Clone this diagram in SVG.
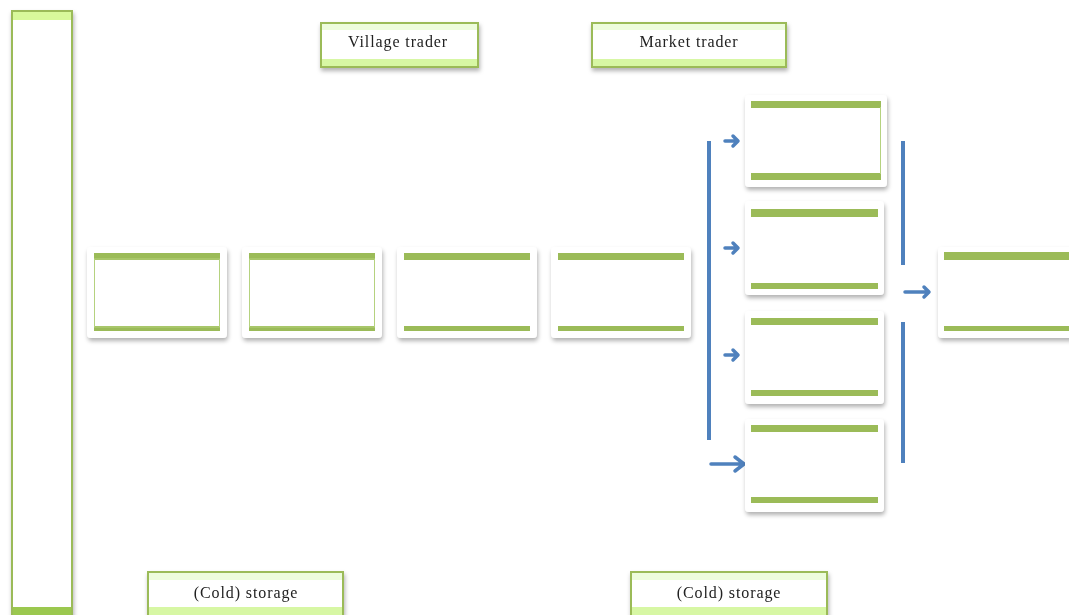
<svg xmlns="http://www.w3.org/2000/svg" width="1069" height="615" viewBox="0 0 1069 615">
<style>
.lbl{fill:#fff;stroke:#9bbb59;stroke-width:2}
.card{fill:#fff}
.band{fill:#9bbb59}
.lt{fill:#edfcdc}
.lg{fill:#d7f7a4}
.txt{font-family:"Liberation Serif",serif;font-size:16px;letter-spacing:0.9px;fill:#222;text-anchor:middle}
.blue{stroke:#4f81bd;stroke-width:4;fill:none}
.arr{stroke:#4f81bd;stroke-width:3.5;fill:none;stroke-linecap:round;stroke-linejoin:round}
</style>
<defs>
<filter id="sh" x="-10%" y="-10%" width="130%" height="130%">
<feDropShadow dx="1" dy="3" stdDeviation="2" flood-color="#000" flood-opacity="0.3"/>
</filter>
</defs>
<rect width="1069" height="615" fill="#fff"/>

<g id="left-column" filter="url(#sh)">
<rect x="12" y="11" width="60" height="610" class="lbl"/>
<rect x="13" y="12" width="58" height="8" fill="#d8f99b"/>
<rect x="13" y="607" width="58" height="8" fill="#9bc850"/>
</g>

<g id="village-trader" filter="url(#sh)">
<rect x="321" y="23" width="157" height="44" class="lbl"/>
<rect x="322" y="24" width="155" height="6" class="lt"/>
<rect x="322" y="59" width="155" height="7" class="lg"/>
<text x="398" y="47" class="txt">Village trader</text>
</g>

<g id="market-trader" filter="url(#sh)">
<rect x="592" y="23" width="194" height="44" class="lbl"/>
<rect x="593" y="24" width="192" height="6" class="lt"/>
<rect x="593" y="59" width="192" height="7" class="lg"/>
<text x="689" y="47" class="txt">Market trader</text>
</g>

<g id="chain1" filter="url(#sh)">
<rect x="87" y="247" width="140" height="91" rx="4" class="card"/>
<rect x="94" y="253" width="126" height="7" class="band"/>
<rect x="94" y="326" width="126" height="5" class="band"/>
<rect x="94.5" y="259" width="125" height="68" fill="none" stroke="#b5d27f" stroke-width="1"/>
</g>
<g id="chain2" filter="url(#sh)">
<rect x="242" y="247" width="140" height="91" rx="4" class="card"/>
<rect x="249" y="253" width="126" height="7" class="band"/>
<rect x="249" y="326" width="126" height="5" class="band"/>
<rect x="249.5" y="259" width="125" height="68" fill="none" stroke="#b5d27f" stroke-width="1"/>
</g>
<g id="chain3" filter="url(#sh)">
<rect x="397" y="247" width="140" height="91" rx="4" class="card"/>
<rect x="404" y="253" width="126" height="7" class="band"/>
<rect x="404" y="326" width="126" height="5" class="band"/>
</g>
<g id="chain4" filter="url(#sh)">
<rect x="551" y="247" width="140" height="91" rx="4" class="card"/>
<rect x="558" y="253" width="126" height="7" class="band"/>
<rect x="558" y="326" width="126" height="5" class="band"/>
</g>

<g id="connectors">
<line x1="709" y1="141" x2="709" y2="440" class="blue"/>
<path d="M725,141 H737 M733,136 L738,141 L733,146" class="arr"/>
<path d="M725,248 H737 M733,243 L738,248 L733,253" class="arr"/>
<path d="M725,355 H737 M733,350 L738,355 L733,360" class="arr"/>
<path d="M711,464 H744 M735,457 L744,464 L735,471" class="arr"/>
<line x1="903" y1="141" x2="903" y2="265" class="blue"/>
<line x1="903" y1="322" x2="903" y2="463" class="blue"/>
<path d="M905,292 H928 M924,287 L929,292 L924,297" class="arr"/>
</g>

<g id="branch1" filter="url(#sh)">
<rect x="745" y="95" width="142" height="92" rx="4" class="card"/>
<rect x="751" y="101" width="130" height="7" class="band"/>
<rect x="751" y="173" width="130" height="7" class="band"/>
<line x1="880.5" y1="107" x2="880.5" y2="174" stroke="#b5d27f" stroke-width="1"/>
</g>
<g id="branch2" filter="url(#sh)">
<rect x="745" y="201" width="139" height="94" rx="4" class="card"/>
<rect x="751" y="209" width="127" height="8" class="band"/>
<rect x="751" y="283" width="127" height="6" class="band"/>
</g>
<g id="branch3" filter="url(#sh)">
<rect x="745" y="311" width="139" height="93" rx="4" class="card"/>
<rect x="751" y="318" width="127" height="7" class="band"/>
<rect x="751" y="390" width="127" height="6" class="band"/>
</g>
<g id="branch4" filter="url(#sh)">
<rect x="745" y="419" width="139" height="93" rx="4" class="card"/>
<rect x="751" y="425" width="127" height="7" class="band"/>
<rect x="751" y="497" width="127" height="6" class="band"/>
</g>

<g id="right-box" filter="url(#sh)">
<rect x="938" y="247" width="140" height="91" rx="4" class="card"/>
<rect x="944" y="252" width="130" height="8" class="band"/>
<rect x="944" y="326" width="130" height="5" class="band"/>
</g>

<g id="cold-storage-1" filter="url(#sh)">
<rect x="148" y="572" width="195" height="50" class="lbl"/>
<rect x="149" y="573" width="193" height="7" class="lt"/>
<rect x="149" y="607" width="193" height="8" class="lg"/>
<text x="246" y="598" class="txt">(Cold) storage</text>
</g>
<g id="cold-storage-2" filter="url(#sh)">
<rect x="631" y="572" width="196" height="50" class="lbl"/>
<rect x="632" y="573" width="194" height="7" class="lt"/>
<rect x="632" y="607" width="194" height="8" class="lg"/>
<text x="729" y="598" class="txt">(Cold) storage</text>
</g>
</svg>
